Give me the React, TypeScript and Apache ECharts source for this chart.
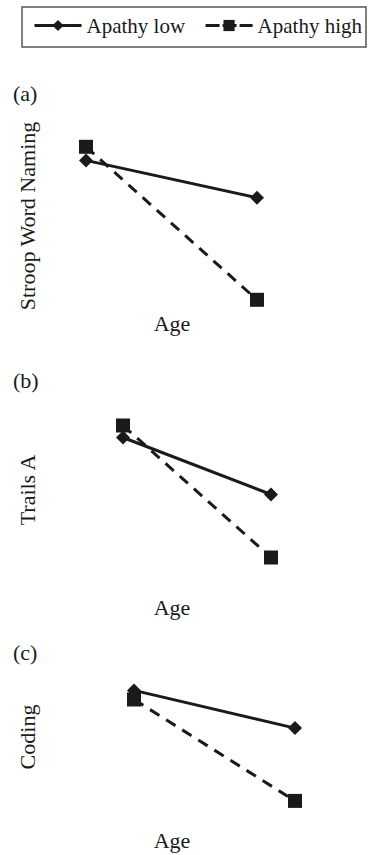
import React, { useEffect, useRef } from "react";
import * as echarts from "echarts";

const seriesNames = ["Apathy low", "Apathy high"];
const panelLabels = ["(a)", "(b)", "(c)"];
const yAxisTitles = ["Stroop Word Naming", "Trails A", "Coding"];
const xAxisTitle = "Age";
// x: 0 = younger, 1 = older (no ticks in the original)
const ageLevels = [0, 1];
// values in arbitrary units (0-10 scale per panel)
const stroopLow = [8.8, 6.6];
const stroopHigh = [9.6, 0.6];
const trailsLow = [8.5, 4.7];
const trailsHigh = [9.3, 0.5];
const codingLow = [9.2, 6.3];
const codingHigh = [8.5, 0.7];

const panelData = [
  [stroopLow, stroopHigh],
  [trailsLow, trailsHigh],
  [codingLow, codingHigh],
];

const FONT = "Liberation Serif, Times New Roman, serif";
const INK = "#1a1a1a";

// layout (pixels)
const grids = [
  { left: 86, width: 171, top: 140, height: 170 },
  { left: 123, width: 148, top: 415, height: 150 },
  { left: 134, width: 161, top: 680, height: 130 },
];
const labelPos = [
  { panel: [13, 93], yTitle: [27, 216], age: [172, 323] },
  { panel: [13, 380], yTitle: [27, 490], age: [172, 607] },
  { panel: [13, 652], yTitle: [27, 737], age: [172, 840] },
];

export default function App() {
  const ref = useRef<HTMLDivElement>(null);
  useEffect(() => {
    if (!ref.current) return;
    const chart = echarts.init(ref.current, null, { renderer: "svg" });
    const series: any[] = [];
    panelData.forEach((pair, i) => {
      pair.forEach((vals, j) => {
        series.push({
          type: "line",
          name: seriesNames[j],
          xAxisIndex: i,
          yAxisIndex: i,
          data: ageLevels.map((x, k) => [x, vals[k]]),
          symbol: j === 0 ? "diamond" : "rect",
          symbolSize: j === 0 ? 14 : 14,
          showSymbol: true,
          z: j === 0 ? 3 : 2,
          lineStyle: {
            color: INK,
            width: 3,
            type: j === 0 ? "solid" : [11, 8],
          },
          itemStyle: { color: INK, borderWidth: 0 },
          emphasis: { disabled: true },
          silent: true,
        });
      });
    });
    const graphics: any[] = [
      {
        type: "rect",
        shape: { x: 22, y: 7, width: 344, height: 40 },
        style: { fill: "none", stroke: "#555", lineWidth: 1.5 },
      },
    ];
    labelPos.forEach((p, i) => {
      graphics.push({
        type: "text",
        x: p.panel[0],
        y: p.panel[1],
        style: { text: panelLabels[i], font: `22px ${FONT}`, fill: INK, align: "left", verticalAlign: "middle" },
      });
      graphics.push({
        type: "text",
        x: p.yTitle[0],
        y: p.yTitle[1],
        rotation: Math.PI / 2,
        style: { text: yAxisTitles[i], font: `22px ${FONT}`, fill: INK, align: "center", verticalAlign: "middle" },
      });
      graphics.push({
        type: "text",
        x: p.age[0],
        y: p.age[1],
        style: { text: xAxisTitle, font: `22px ${FONT}`, fill: INK, align: "center", verticalAlign: "middle" },
      });
    });
    chart.setOption({
      animation: false,
      backgroundColor: "#fff",
      legend: {
        data: [
          { name: seriesNames[0], lineStyle: { width: 3, type: "solid", color: INK } },
          { name: seriesNames[1], lineStyle: { width: 3, type: [14, 3], color: INK } },
        ],
        orient: "horizontal",
        left: 33,
        top: 15,
        width: 336,
        padding: 0,
        itemWidth: 47,
        itemHeight: 14,
        itemGap: 19,
        selectedMode: false,
        textStyle: { fontFamily: FONT, fontSize: 21, color: INK },
      },
      grid: grids.map((g) => ({ ...g })),
      xAxis: grids.map((_, i) => ({ type: "value", gridIndex: i, min: 0, max: 1, show: false })),
      yAxis: grids.map((_, i) => ({ type: "value", gridIndex: i, min: 0, max: 10, show: false })),
      graphic: graphics,
      series,
    });
    return () => chart.dispose();
  }, []);
  return <div ref={ref} style={{ position: "absolute", left: 0, top: 0, width: 369, height: 855 }} />;
}
